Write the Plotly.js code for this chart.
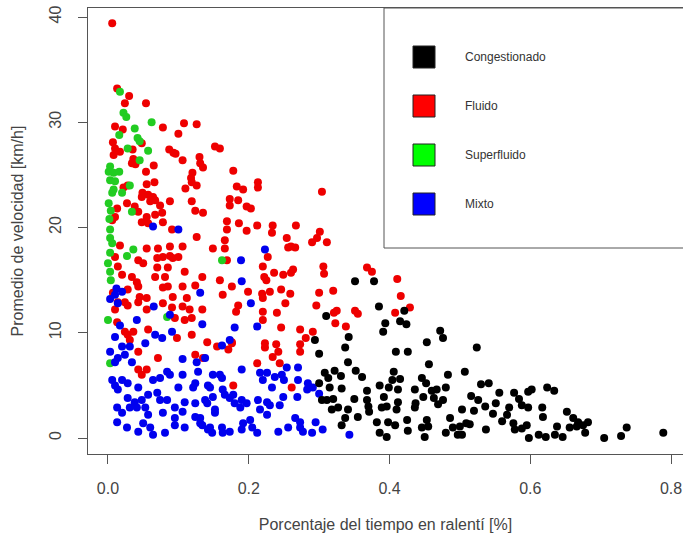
<!DOCTYPE html>
<html>
<head>
<meta charset="utf-8">
<script src="https://cdn.plot.ly/plotly-3.0.1.min.js"></script>
<style>
  html, body { margin: 0; padding: 0; background: #ffffff; }
  #chart { width: 683px; height: 536px; }
</style>
</head>
<body>
<div id="chart"></div>
<script>
// Traffic states: share of idle time vs. mean speed
const categories = ["Congestionado", "Fluido", "Superfluido", "Mixto"];
const xTickVals = [0, 0.2, 0.4, 0.6, 0.8];
const xTickText = ["0.0", "0.2", "0.4", "0.6", "0.8"];
const yTickVals = [0, 10, 20, 30, 40];
const yTickText = ["0", "10", "20", "30", "40"];

const congX = [0.351,0.378,0.385,0.421,0.394,0.415,0.424,0.310,0.391,0.342,0.294,0.453,0.472,0.476,0.337,0.300,0.409,0.426,0.524,0.456,0.341,0.308,0.322,0.331,0.352,0.361,0.406,0.415,0.446,0.452,0.483,0.507,0.300,0.315,0.332,0.368,0.399,0.412,0.436,0.460,0.480,0.304,0.320,0.350,0.370,0.392,0.396,0.412,0.410,0.437,0.463,0.469,0.503,0.318,0.355,0.371,0.382,0.398,0.408,0.426,0.446,0.455,0.480,0.490,0.497,0.500,0.514,0.386,0.396,0.450,0.332,0.530,0.541,0.516,0.556,0.577,0.597,0.602,0.624,0.634,0.526,0.536,0.551,0.520,0.547,0.570,0.584,0.588,0.597,0.617,0.618,0.567,0.560,0.576,0.578,0.588,0.595,0.537,0.509,0.503,0.598,0.612,0.622,0.635,0.646,0.638,0.652,0.661,0.668,0.675,0.682,0.656,0.678,0.705,0.729,0.737,0.789,0.666,0.313,0.311,0.327,0.337,0.341,0.368,0.386,0.389,0.404,0.448,0.467,0.476,0.486,0.453,0.436,0.425];
const congY = [14.9,14.9,12.5,12.1,10.9,11.1,10.8,11.6,10.1,9.6,9.3,9.1,10.2,9.5,8.6,8.0,8.2,8.2,8.6,7.0,7.2,6.2,6.4,5.9,6.4,5.8,6.3,5.6,5.7,5.2,6.0,6.3,5.2,4.8,4.7,4.5,4.8,4.6,4.6,4.5,4.8,3.6,3.7,3.7,3.0,3.9,3.0,3.4,2.7,3.3,3.8,3.2,2.7,2.7,2.0,2.5,1.5,1.5,1.2,0.7,1.0,1.1,0.5,1.0,0.3,1.1,1.3,0.5,0.1,0.1,1.2,5.1,5.2,4.0,4.3,4.3,4.4,4.6,4.8,4.5,3.6,3.0,3.3,2.6,2.3,2.9,3.7,3.1,2.9,2.9,2.0,2.2,1.6,1.4,0.8,0.9,1.2,0.8,1.4,0.3,0.0,0.3,0.1,0.3,0.1,1.1,2.5,1.9,1.5,1.2,1.5,1.0,0.5,0.0,0.2,1.0,0.5,1.1,5.7,3.6,2.9,1.9,2.7,3.6,5.0,2.9,5.5,3.9,4.6,3.6,1.9,1.7,2.9,1.7];

const fluX = [0.006,0.013,0.030,0.024,0.054,0.010,0.021,0.078,0.108,0.126,0.100,0.152,0.159,0.007,0.010,0.008,0.017,0.035,0.048,0.087,0.093,0.096,0.036,0.034,0.039,0.106,0.130,0.131,0.135,0.065,0.054,0.178,0.120,0.118,0.119,0.055,0.066,0.126,0.110,0.183,0.022,0.028,0.049,0.057,0.064,0.067,0.048,0.060,0.088,0.119,0.124,0.135,0.173,0.173,0.185,0.027,0.038,0.043,0.074,0.077,0.055,0.067,0.013,0.006,0.010,0.078,0.091,0.048,0.057,0.126,0.169,0.169,0.186,
  0.017,0.071,0.055,0.088,0.106,0.149,0.166,0.166,0.043,0.050,0.010,0.014,0.020,0.034,0.041,0.043,0.070,0.078,0.088,0.092,0.100,0.169,0.070,0.085,0.067,0.081,0.109,0.134,0.124,0.159,0.176,0.078,0.085,0.106,0.092,0.112,0.045,0.055,0.078,0.028,0.024,0.043,0.163,0.185,
  0.192,0.213,0.213,0.197,0.203,0.197,0.212,0.234,0.233,0.267,0.304,0.254,0.290,0.297,0.301,0.311,0.256,0.260,0.266,0.227,0.220,0.222,0.225,0.236,0.249,0.260,0.263,0.306,0.307,0.368,0.375,0.411,0.416,0.230,0.246,0.259,0.252,0.199,0.219,0.220,0.300,0.320,0.296,0.325,0.321,0.351,0.355,0.408,0.429,0.182,0.220,0.240,0.246,0.323,0.338,0.273,0.281,0.291,0.223,0.239,0.273,0.176,
  0.014,0.028,0.010,0.055,0.091,0.106,0.116,0.134,0.095,0.109,0.119,0.013,0.024,0.028,0.031,0.036,0.057,0.098,0.119,0.141,0.155,0.171,0.176,0.043,0.071,0.124,0.043,0.055,0.048,0.178,0.007,0.135,
  0.220,0.223,0.242,0.273,0.234,0.212,0.244,0.261];
const fluY = [39.4,33.2,32.5,31.8,31.8,29.6,29.3,29.5,29.9,29.8,28.9,27.7,27.5,28.1,27.5,26.9,27.2,27.4,28.0,27.4,27.1,27.0,26.5,26.1,26.0,26.4,26.7,26.1,25.7,25.9,25.3,25.4,25.2,24.7,24.3,24.1,24.3,24.0,23.7,23.9,23.8,24.0,23.3,23.1,22.9,22.6,22.9,22.5,22.5,22.5,21.6,21.4,22.7,22.1,22.6,22.3,22.0,21.5,22.1,21.4,21.0,21.2,21.8,20.7,21.0,20.5,19.8,20.5,20.4,19.1,20.6,19.8,20.4,
  18.3,18.0,18.0,18.2,18.2,18.0,18.0,18.8,16.9,16.6,17.2,16.3,15.5,15.3,14.8,14.4,17.1,17.2,17.3,17.1,17.2,16.9,16.2,16.2,15.3,15.3,15.8,15.3,14.5,15.0,14.4,14.3,14.4,14.4,13.4,13.3,13.4,13.3,12.8,14.1,12.9,12.9,13.6,12.6,
  23.6,24.3,23.8,22.0,21.8,19.7,20.2,20.2,19.5,20.2,23.4,19.0,18.6,19.0,19.6,18.6,18.1,18.2,18.1,17.2,16.3,15.3,15.0,15.7,15.5,15.7,16.0,16.3,15.6,16.2,15.8,15.1,13.5,13.9,14.1,13.7,12.8,13.9,13.7,13.3,13.8,14.0,12.6,12.1,11.9,12.1,11.8,11.9,12.4,12.0,12.0,11.9,10.5,10.9,10.6,10.3,9.5,10.1,9.0,8.9,8.9,9.0,
  12.9,12.6,12.2,12.2,12.4,12.5,12.2,12.2,11.4,11.2,11.4,11.0,10.1,9.8,9.3,10.1,10.3,9.5,9.8,9.1,8.7,8.4,9.1,8.2,7.6,7.9,6.5,6.5,6.0,5.0,13.8,7.6,
  11.2,8.6,8.2,8.2,7.7,7.1,7.1,4.8];

const supX = [0.017,0.022,0.026,0.038,0.062,0.042,0.045,0.016,0.028,0.057,0.045,0.003,0.001,0.008,0.016,0.003,0.010,0.006,0.008,0.031,0.034,0.003,0.006,0.003,0.000,0.003,0.004,0.036,0.027,0.162,0.003,0.020,0.000,0.084,0.003,0.002,0.004,0.001];
const supY = [32.9,30.9,30.5,29.4,30.0,28.5,28.2,28.8,27.5,27.3,26.4,25.8,25.3,25.2,25.3,24.5,24.4,23.3,23.6,24.0,21.5,19.8,18.5,17.6,16.6,15.8,15.0,17.9,17.3,16.9,19.0,23.3,11.2,11.5,7.1,20.8,21.6,22.3];

const mixX = [0.064,0.100,0.189,0.190,0.131,0.065,0.010,0.020,0.014,0.223,0.203,0.212,0.180,
  0.041,0.017,0.088,0.134,0.091,0.067,0.077,0.010,0.053,0.020,0.031,0.003,0.014,0.024,0.034,0.010,0.106,0.126,0.138,0.162,0.084,0.088,0.074,0.064,0.106,0.128,0.149,0.159,0.162,0.190,0.006,0.010,0.020,0.028,0.014,0.043,0.057,0.070,0.100,0.121,0.124,0.145,0.142,0.166,0.163,0.178,0.028,0.038,0.048,0.031,0.041,0.053,0.013,0.020,0.074,0.084,0.095,0.109,0.124,0.138,0.152,0.188,0.190,0.057,0.078,0.050,0.013,0.027,0.043,0.060,0.064,0.081,0.095,0.109,0.131,0.134,0.142,0.148,0.162,0.163,0.190,0.106,0.095,
  0.173,0.226,0.254,0.247,0.237,0.216,0.220,0.233,0.250,0.270,0.284,0.291,0.283,0.269,0.197,0.173,0.180,0.213,0.226,0.230,0.226,0.244,0.249,0.216,0.202,0.205,0.212,0.192,0.242,0.256,0.266,0.273,0.277,0.290,0.273,0.173,0.152,0.141,0.149,0.131,0.145,0.124,0.270,0.295,0.305,0.343,0.300,0.003,0.012];
const mixY = [20.1,19.8,16.9,14.9,13.8,12.5,13.6,13.9,12.8,17.9,12.8,10.6,10.5,
  11.2,10.7,11.7,10.8,10.1,9.8,9.5,9.6,9.0,8.7,8.7,8.2,7.6,7.9,7.2,7.2,7.5,7.2,7.6,8.8,6.3,6.0,5.7,5.5,6.0,6.3,6.0,6.0,5.7,6.5,5.5,5.0,5.5,5.2,4.6,4.8,4.1,4.3,4.8,4.8,5.2,4.8,5.0,4.1,4.6,4.1,3.8,3.4,3.6,2.9,2.9,2.9,2.9,2.4,3.6,3.6,2.9,3.4,3.3,3.6,2.7,2.9,3.6,2.2,2.4,1.4,1.5,1.0,0.6,1.0,0.3,0.5,1.2,1.0,1.9,1.2,0.8,0.5,1.0,0.5,0.8,2.5,1.9,
  9.3,6.2,6.7,6.0,5.8,6.2,5.5,4.8,5.5,5.5,5.2,4.8,4.6,3.9,3.3,3.8,3.3,3.6,3.4,3.1,2.2,3.1,3.9,2.7,1.7,1.0,0.5,1.4,0.6,1.0,1.9,1.5,0.6,0.5,1.0,0.6,2.4,3.3,3.9,1.4,1.0,2.0,6.7,1.5,0.8,0.3,4.2,13.2,14.2];

// point colours and legend-box fills, in category order
const pointColors = ["#000000", "#ee0000", "#22cc22", "#0000ee"];
const boxColors = ["#000000", "#ff0000", "#00ff00", "#0000ff"];

const seriesX = [congX, fluX, supX, mixX];
const seriesY = [congY, fluY, supY, mixY];
const drawOrder = [1, 2, 3, 0];

const traces = drawOrder.map(i => ({
  type: "scatter",
  mode: "markers",
  name: categories[i],
  x: seriesX[i],
  y: seriesY[i],
  marker: { color: pointColors[i], size: 8, line: { width: 0 } },
  showlegend: false,
  hoverinfo: "x+y+name"
}));

// plot frame in pixels
const W = 683, H = 536;
const M = { l: 88, r: 0, t: 8, b: 82 };
const plotW = W - M.l - M.r, plotH = H - M.t - M.b;
const px2paperX = px => (px - M.l) / plotW;
const py2paperY = py => (H - M.b - py) / plotH;

const axisColor = "#555555";
const textColor = "#444444";
const fontFam = "Liberation Sans, Arial, sans-serif";

// key box in the upper right, drawn as shapes + text
const shapes = [{
  type: "rect", xref: "paper", yref: "paper",
  x0: px2paperX(384), x1: 1.02, y0: py2paperY(248), y1: 1,
  line: { color: axisColor, width: 1 }, fillcolor: "rgba(255,255,255,1)", layer: "above"
}];
const annotations = [];
categories.forEach((name, i) => {
  const cy = 57 + 49 * i;
  shapes.push({
    type: "rect", xref: "paper", yref: "paper",
    x0: px2paperX(413), x1: px2paperX(435),
    y0: py2paperY(cy + 11), y1: py2paperY(cy - 11),
    fillcolor: boxColors[i], line: { color: "#222222", width: 1 }, layer: "above"
  });
  annotations.push({
    xref: "paper", yref: "paper",
    x: px2paperX(463), y: py2paperY(cy),
    xanchor: "left", yanchor: "middle", showarrow: false,
    text: name, font: { family: fontFam, size: 12, color: "#333333" }
  });
});

const layout = {
  width: W, height: H,
  margin: M,
  paper_bgcolor: "#ffffff", plot_bgcolor: "#ffffff",
  font: { family: fontFam, size: 16, color: textColor },
  xaxis: {
    range: [-0.0284, 0.8170],
    tickvals: xTickVals, ticktext: xTickText,
    ticks: "outside", ticklen: 9, tickcolor: axisColor, tickwidth: 1,
    showline: true, linecolor: axisColor, linewidth: 1, mirror: true,
    showgrid: false, zeroline: false,
    tickfont: { size: 16, color: textColor },
    ticklabelstandoff: 11,
    title: { text: "Porcentaje del tiempo en ralentí [%]", font: { size: 16, color: textColor }, standoff: 22 }
  },
  yaxis: {
    range: [-1.52, 40.855],
    tickvals: yTickVals, ticktext: yTickText,
    tickangle: -90,
    ticks: "outside", ticklen: 9, tickcolor: axisColor, tickwidth: 1,
    showline: true, linecolor: axisColor, linewidth: 1,
    showgrid: false, zeroline: false,
    tickfont: { size: 16, color: textColor },
    ticklabelstandoff: 11,
    title: { text: "Promedio de velocidad [km/h]", font: { size: 16, color: textColor }, standoff: 18 }
  },
  shapes: shapes,
  annotations: annotations,
  showlegend: false
};

Plotly.newPlot("chart", traces, layout, { displayModeBar: false, staticPlot: true });
</script>
</body>
</html>
